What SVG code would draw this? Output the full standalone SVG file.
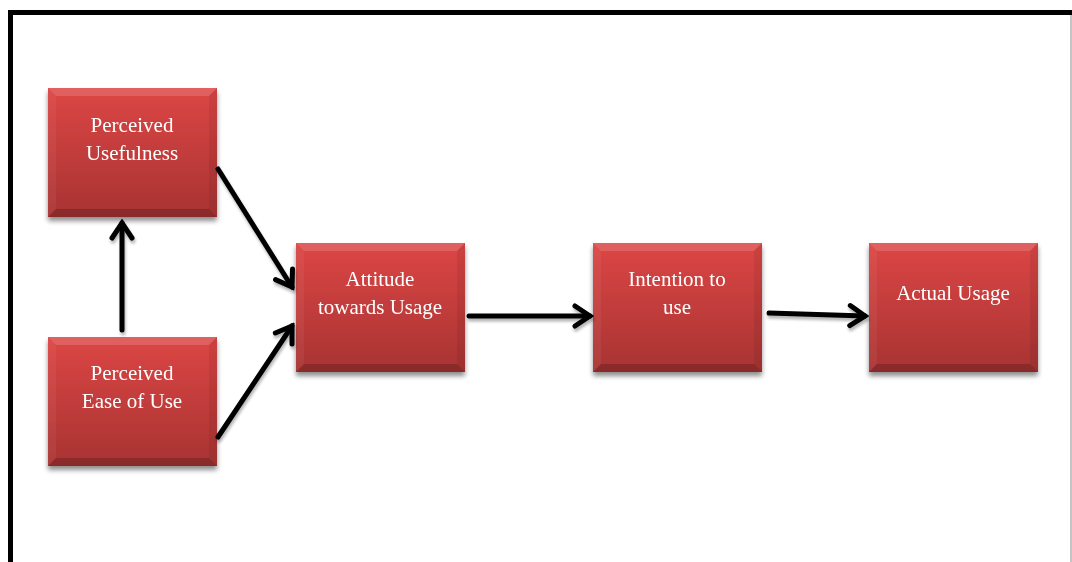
<svg xmlns="http://www.w3.org/2000/svg" width="1072" height="562" viewBox="0 0 1072 562">
<defs>
<linearGradient id="g" x1="0" y1="0" x2="0" y2="1">
<stop offset="0" stop-color="#dc4645"/>
<stop offset="1" stop-color="#a83332"/>
</linearGradient>
<filter id="sh" x="-10%" y="-10%" width="130%" height="130%">
<feGaussianBlur in="SourceAlpha" stdDeviation="2.5"/>
<feOffset dx="0" dy="4" result="b"/>
<feComponentTransfer><feFuncA type="linear" slope="0.45"/></feComponentTransfer>
<feMerge><feMergeNode/><feMergeNode in="SourceGraphic"/></feMerge>
</filter>
<filter id="ash" x="-20%" y="-20%" width="140%" height="140%">
<feGaussianBlur in="SourceAlpha" stdDeviation="1.5"/>
<feOffset dx="1" dy="3"/>
<feComponentTransfer><feFuncA type="linear" slope="0.3"/></feComponentTransfer>
<feMerge><feMergeNode/><feMergeNode in="SourceGraphic"/></feMerge>
</filter>
<marker id="ah" viewBox="0 0 26 26" refX="22" refY="13" markerWidth="26" markerHeight="26" markerUnits="userSpaceOnUse" orient="auto">
<polyline points="7,3 22,13 7,23" fill="none" stroke="#000" stroke-width="5" stroke-linecap="round" stroke-linejoin="miter"/>
</marker>
<g id="box">
<rect x="0" y="0" width="169" height="129" fill="url(#g)"/>
<polygon points="0,0 169,0 161,8 8,8" fill="#ffffff" opacity="0.15"/>
<polygon points="0,0 8,8 8,121 0,129" fill="#ffffff" opacity="0.05"/>
<polygon points="169,0 169,129 161,121 161,8" fill="#000000" opacity="0.07"/>
<polygon points="0,129 8,121 161,121 169,129" fill="#000000" opacity="0.18"/>
</g>
</defs>
<style>
.t{font-family:"Liberation Serif","Times New Roman",serif;font-size:21px;fill:#ffffff;text-anchor:middle}
.c{fill:none;stroke:#000;stroke-width:5;stroke-linecap:round;marker-end:url(#ah)}
</style>
<rect width="1072" height="562" fill="#ffffff"/>
<path d="M10.5,562 V12.5 H1072" fill="none" stroke="#000" stroke-width="5"/>
<line x1="1071" y1="15" x2="1071" y2="562" stroke="#b0b0b0" stroke-width="1.5"/>
<g id="n-pu" filter="url(#sh)">
<use href="#box" x="48" y="88"/>
<text class="t" x="132" y="132">Perceived</text>
<text class="t" x="132" y="160">Usefulness</text>
</g>
<g id="n-peou" filter="url(#sh)">
<use href="#box" x="48" y="337"/>
<text class="t" x="132" y="380">Perceived</text>
<text class="t" x="132" y="408">Ease of Use</text>
</g>
<g id="n-att" filter="url(#sh)">
<use href="#box" x="296" y="243"/>
<text class="t" x="380" y="286">Attitude</text>
<text class="t" x="380" y="314">towards Usage</text>
</g>
<g id="n-int" filter="url(#sh)">
<use href="#box" x="593" y="243"/>
<text class="t" x="677" y="286">Intention to</text>
<text class="t" x="677" y="314">use</text>
</g>
<g id="n-act" filter="url(#sh)">
<use href="#box" x="869" y="243"/>
<text class="t" x="953" y="300">Actual Usage</text>
</g>
<g id="connectors" filter="url(#ash)">
<line class="c" x1="218" y1="169" x2="292" y2="287"/>
<line class="c" x1="218" y1="437" x2="292" y2="326"/>
<line class="c" x1="122" y1="330" x2="122" y2="223"/>
<line class="c" x1="469" y1="316" x2="590" y2="316"/>
<line class="c" x1="769" y1="313" x2="865" y2="316"/>
</g>
</svg>
